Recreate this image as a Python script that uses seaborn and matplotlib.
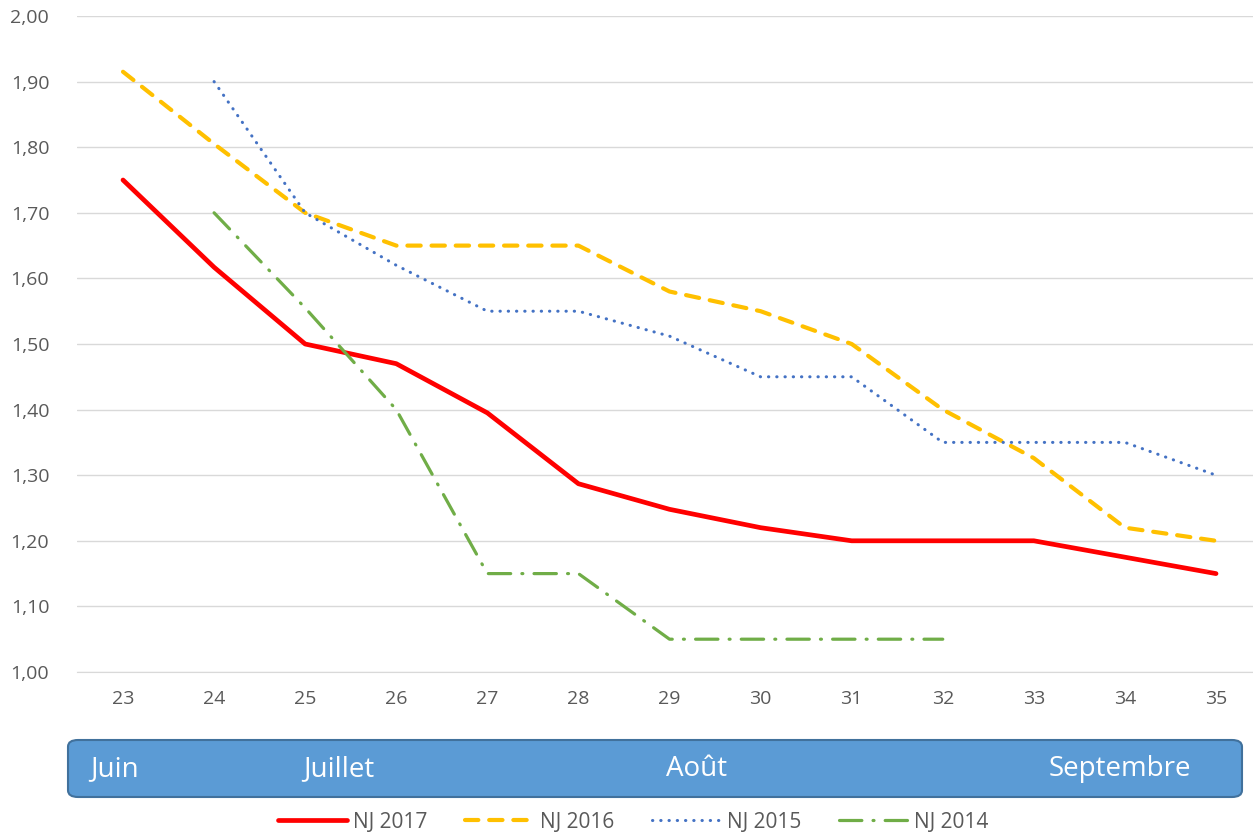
import numpy as np
import pandas as pd
import matplotlib.pyplot as plt
import seaborn as sns
from matplotlib.patches import FancyBboxPatch

sns.set_style("white")
plt.rcParams['font.family'] = ['Open Sans', 'DejaVu Sans']

weeks = [23, 24, 25, 26, 27, 28, 29, 30, 31, 32, 33, 34, 35]
nj2017 = [1.75, 1.617, 1.50, 1.47, 1.395, 1.287, 1.248, 1.22, 1.20, 1.20, 1.20, 1.175, 1.15]
nj2016 = [1.915, 1.805, 1.70, 1.65, 1.65, 1.65, 1.58, 1.55, 1.50, 1.40, 1.326, 1.22, 1.20]
nj2015 = [np.nan, 1.90, 1.70, 1.62, 1.55, 1.55, 1.512, 1.45, 1.45, 1.35, 1.35, 1.35, 1.30]
nj2014 = [np.nan, 1.70, 1.555, 1.40, 1.15, 1.15, 1.05, 1.05, 1.05, 1.05, np.nan, np.nan, np.nan]

months = ["Juin", "Juillet", "Août", "Septembre"]
month_x = [90, 303, 666, 1049]

series = {"NJ 2017": nj2017, "NJ 2016": nj2016, "NJ 2015": nj2015, "NJ 2014": nj2014}
styles = {
    "NJ 2017": dict(color="#FF0000", lw=3.4, ls="-"),
    "NJ 2016": dict(color="#FFC000", lw=3.0, ls=(0, (3.2, 2.6))),
    "NJ 2015": dict(color="#4472C4", lw=2.2, ls=(0, (0.1, 2.6))),
    "NJ 2014": dict(color="#70AD47", lw=2.3, ls=(0, (7, 3.5, 0.3, 3.5))),
}

fig = plt.figure(figsize=(12.53, 8.34), dpi=100)
ax = fig.add_axes([77 / 1253, 1 - 672 / 834, 1 - 77 / 1253, (672 - 16) / 834])

for name, vals in series.items():
    df = pd.DataFrame({"week": weeks, "val": vals}).dropna()
    st = styles[name]
    sns.lineplot(data=df, x="week", y="val", ax=ax, color=st["color"],
                 linewidth=st["lw"], linestyle=st["ls"], label=name,
                 dash_capstyle="round", solid_capstyle="round")

ax.set_xlim(22.495, 35.406)
ax.set_ylim(1.0, 2.0)
ax.set_xticks(weeks)
ax.set_yticks(np.arange(1.0, 2.01, 0.1))
ax.set_yticklabels([f"{v:.2f}".replace(".", ",") for v in np.arange(1.0, 2.01, 0.1)])
ax.set_xlabel("")
ax.set_ylabel("")
ax.grid(axis="y", color="#D9D9D9", lw=1)
ax.grid(axis="x", visible=False)
for s in ["top", "right", "left"]:
    ax.spines[s].set_visible(False)
ax.spines["bottom"].set_color("#D9D9D9")
ax.tick_params(axis="both", length=0, labelsize=14, labelcolor="#595959")
ax.tick_params(axis="x", pad=13)
ax.tick_params(axis="y", pad=20)

box = FancyBboxPatch((68 / 1253, 1 - 797 / 834), (1242 - 68) / 1253, 57 / 834,
                     boxstyle="round,pad=0,rounding_size=0.008",
                     transform=fig.transFigure, facecolor="#5B9BD5",
                     edgecolor="#41719C", lw=1.5)
fig.patches.append(box)
for m, x in zip(months, month_x):
    fig.text(x / 1253, 1 - 769 / 834, m, color="white", fontsize=20,
             ha="left", va="center")

handles, labels = ax.get_legend_handles_labels()
ax.get_legend().remove()
fig.legend(handles, labels, loc="center", bbox_to_anchor=(633 / 1253, 1 - 822 / 834),
           ncol=4, frameon=False, fontsize=15, handlelength=3.3, handletextpad=0.3,
           columnspacing=1.8, labelcolor="#595959")

fig.savefig("out.png", dpi=100)
